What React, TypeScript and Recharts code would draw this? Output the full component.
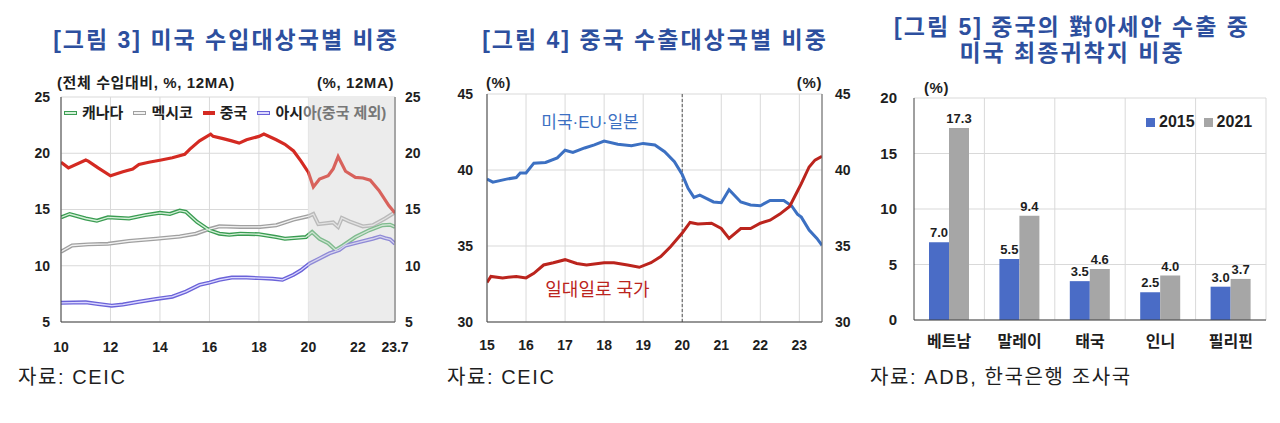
import React from 'react';
import {
  LineChart, Line, XAxis, YAxis, CartesianGrid, ReferenceArea, ReferenceLine,
  BarChart, Bar, LabelList,
} from 'recharts';

const FONT = "'Liberation Sans', 'Noto Sans CJK KR', sans-serif";

// ---------- Figure 3: US import share by partner (%, 12MA) ----------
const canadaShare: [number, number][] = [
  [2010.0, 14.3], [2010.35, 14.6], [2011.0, 14.2], [2011.45, 14.0], [2011.9, 14.3], [2012.75, 14.2],
  [2013.4, 14.5], [2014.0, 14.7], [2014.4, 14.6], [2014.8, 14.9], [2015.05, 14.8], [2015.5, 13.9],
  [2016.0, 13.15], [2016.4, 12.85], [2016.8, 12.75], [2017.25, 12.85], [2018.0, 12.8], [2018.7, 12.55],
  [2019.05, 12.4], [2019.9, 12.55], [2020.15, 13.0], [2020.45, 12.4], [2020.8, 12.0], [2021.1, 11.4],
  [2021.4, 11.8], [2021.9, 12.55], [2022.45, 13.15], [2023.0, 13.6], [2023.3, 13.65], [2023.5, 13.45],
];
const mexicoShare: [number, number][] = [
  [2010.0, 11.25], [2010.45, 11.8], [2011.1, 11.9], [2011.9, 11.95], [2012.75, 12.2], [2013.85, 12.4],
  [2014.8, 12.6], [2015.45, 12.85], [2015.9, 13.2], [2016.4, 13.5], [2017.25, 13.45], [2018.05, 13.45],
  [2018.7, 13.6], [2019.4, 14.1], [2020.0, 14.4], [2020.2, 14.6], [2020.4, 13.7], [2021.0, 13.85],
  [2021.2, 13.45], [2021.35, 14.25], [2021.65, 13.95], [2022.2, 13.5], [2022.6, 13.6], [2023.1, 14.2],
  [2023.5, 14.75],
];
const chinaShare: [number, number][] = [
  [2010.0, 19.2], [2010.3, 18.7], [2011.0, 19.4], [2011.1, 19.3], [2011.5, 18.7], [2012.0, 18.0],
  [2012.5, 18.35], [2012.9, 18.6], [2013.15, 19.0], [2013.55, 19.2], [2014.05, 19.4], [2014.5, 19.6],
  [2015.0, 19.9], [2015.2, 20.35], [2015.6, 21.1], [2016.05, 21.7], [2016.15, 21.5], [2016.55, 21.3],
  [2016.9, 21.1], [2017.2, 20.9], [2017.5, 21.2], [2018.0, 21.5], [2018.2, 21.7], [2018.7, 21.2],
  [2019.05, 20.8], [2019.4, 20.2], [2019.7, 19.3], [2020.0, 18.3], [2020.2, 17.0], [2020.45, 17.7],
  [2020.8, 18.0], [2021.0, 18.6], [2021.2, 19.7], [2021.5, 18.4], [2021.9, 17.85], [2022.2, 17.8],
  [2022.5, 17.6], [2022.85, 16.7], [2023.25, 15.35], [2023.5, 14.7],
];
const asiaExChinaShare: [number, number][] = [
  [2010.0, 6.7], [2011.0, 6.75], [2011.5, 6.6], [2012.05, 6.45], [2012.5, 6.55], [2013.15, 6.8],
  [2013.85, 7.05], [2014.5, 7.25], [2015.05, 7.7], [2015.6, 8.3], [2016.0, 8.5], [2016.4, 8.75],
  [2016.9, 8.95], [2017.5, 8.95], [2018.0, 8.9], [2018.55, 8.85], [2018.95, 8.75], [2019.4, 9.2],
  [2019.7, 9.6], [2020.05, 10.2], [2020.45, 10.65], [2020.85, 11.1], [2021.25, 11.4], [2021.5, 11.8],
  [2022.05, 12.1], [2022.6, 12.4], [2022.9, 12.6], [2023.1, 12.45], [2023.3, 12.35], [2023.5, 11.95],
];
const fig3XTicks = [2010, 2012, 2014, 2016, 2018, 2020, 2022, 2023.5];
const fig3XLabels = ['10', '12', '14', '16', '18', '20', '22', '23.7'];
const fig3YTicks = [5, 10, 15, 20, 25];
const fig3ShadeStart = 2020;

// ---------- Figure 4: China export share by destination (%) ----------
const usEuJapanShare: [number, number][] = [
  [2015.0, 39.4], [2015.15, 39.2], [2015.5, 39.4], [2015.75, 39.5], [2015.85, 39.8], [2016.0, 39.8],
  [2016.2, 40.45], [2016.5, 40.5], [2016.8, 40.8], [2017.0, 41.3], [2017.2, 41.15], [2017.5, 41.45],
  [2017.75, 41.65], [2018.0, 41.9], [2018.35, 41.7], [2018.7, 41.6], [2019.0, 41.75], [2019.3, 41.65],
  [2019.55, 41.2], [2019.8, 40.55], [2020.0, 39.7], [2020.15, 38.8], [2020.3, 38.2], [2020.45, 38.35],
  [2020.8, 37.9], [2021.0, 37.85], [2021.2, 38.7], [2021.5, 37.9], [2021.75, 37.7], [2022.0, 37.65],
  [2022.25, 38.0], [2022.6, 38.0], [2022.8, 37.65], [2022.95, 37.1], [2023.05, 36.9], [2023.25, 36.05],
  [2023.45, 35.5], [2023.58, 35.05],
];
const beltRoadShare: [number, number][] = [
  [2015.0, 32.6], [2015.1, 33.0], [2015.4, 32.9], [2015.75, 33.0], [2016.0, 32.9], [2016.2, 33.2],
  [2016.45, 33.75], [2016.7, 33.9], [2017.0, 34.1], [2017.3, 33.85], [2017.55, 33.75], [2018.0, 33.9],
  [2018.25, 33.9], [2018.6, 33.75], [2018.9, 33.6], [2019.2, 33.9], [2019.45, 34.3], [2019.7, 34.95],
  [2020.0, 35.85], [2020.2, 36.55], [2020.4, 36.45], [2020.75, 36.5], [2021.0, 36.15], [2021.2, 35.5],
  [2021.5, 36.15], [2021.75, 36.15], [2022.0, 36.5], [2022.25, 36.7], [2022.5, 37.1], [2022.75, 37.6],
  [2022.95, 38.6], [2023.05, 39.1], [2023.25, 40.2], [2023.4, 40.65], [2023.58, 40.9],
];
const fig4XTicks = [2015, 2016, 2017, 2018, 2019, 2020, 2021, 2022, 2023];
const fig4XLabels = ['15', '16', '17', '18', '19', '20', '21', '22', '23'];
const fig4YTicks = [30, 35, 40, 45];

// ---------- Figure 5: share of US as final destination (%) ----------
const aseanCountries = ['베트남', '말레이', '태국', '인니', '필리핀'];
const share2015 = [7.0, 5.5, 3.5, 2.5, 3.0];
const share2021 = [17.3, 9.4, 4.6, 4.0, 3.7];
const fig5YTicks = [0, 5, 10, 15, 20];

const toRows = (pairs: [number, number][]) => pairs.map(([year, value]) => ({ year, value }));
const fig5Rows = aseanCountries.map((name, i) => ({ name, y2015: share2015[i], y2021: share2021[i] }));

const tickStyle = { fontSize: 14, fontWeight: 700, fill: '#1e1e1e', fontFamily: FONT };
const DARK = '#404040';
const GRID = '#d9d9d9';

const titleStyle: React.CSSProperties = {
  position: 'absolute', color: '#2d4f9e', fontSize: 23, fontWeight: 700, letterSpacing: 2,
  textAlign: 'center', whiteSpace: 'nowrap', lineHeight: '26px',
};
const unitStyle: React.CSSProperties = {
  position: 'absolute', fontSize: 15, fontWeight: 700, color: '#1e1e1e', whiteSpace: 'nowrap', lineHeight: '18px', letterSpacing: 0.6,
};
const sourceStyle: React.CSSProperties = {
  position: 'absolute', fontSize: 20, color: '#1e1e1e', letterSpacing: 1.6, whiteSpace: 'nowrap', lineHeight: '22px',
};

function DoubleMarker({ outer, inner }: { outer: string; inner: string }) {
  return (
    <span style={{ display: 'inline-block', width: 11, height: 2, background: inner, border: `1px solid ${outer}`, margin: '0 5px 0 2px' }} />
  );
}

// fraction of each fig-3 line (bounding box spans its first to last year) before the shaded period
const shadeFraction = (pairs: [number, number][]) =>
  (fig3ShadeStart - pairs[0][0]) / (pairs[pairs.length - 1][0] - pairs[0][0]);

function Fig3() {
  const series = [
    { key: 'mx', data: mexicoShare, outer: '#a0a0a0', outerFade: '#b9b9b9', inner: '#f2f2f2', innerFade: '#e2e2e2' },
    { key: 'ca', data: canadaShare, outer: '#3a9c52', outerFade: '#7fbb8e', inner: '#d4f0d8', innerFade: '#d0e4d3' },
    { key: 'as', data: asiaExChinaShare, outer: '#6a62d8', outerFade: '#8f8ad6', inner: '#dcd9ff', innerFade: '#d6d4ee' },
    { key: 'cn', data: chinaShare, outer: '#d42a22', outerFade: '#d8625c', inner: '', innerFade: '' },
  ];
  return (
    <div style={{ position: 'absolute', left: 0, top: 60 }}>
      <LineChart width={430} height={300} margin={{ top: 37, right: 0, bottom: 8, left: 21 }}>
        <defs>
          {series.map((s) => {
            const f = shadeFraction(s.data);
            return (
              <React.Fragment key={s.key}>
                <linearGradient id={`g-${s.key}-o`} x1="0" y1="0" x2="1" y2="0">
                  <stop offset={f} stopColor={s.outer} />
                  <stop offset={f} stopColor={s.outerFade} />
                </linearGradient>
                <linearGradient id={`g-${s.key}-i`} x1="0" y1="0" x2="1" y2="0">
                  <stop offset={f} stopColor={s.inner || s.outer} />
                  <stop offset={f} stopColor={s.innerFade || s.outerFade} />
                </linearGradient>
              </React.Fragment>
            );
          })}
        </defs>
        <CartesianGrid stroke={GRID} />
        <ReferenceArea x1={fig3ShadeStart} x2={2023.5} y1={5} y2={25} fill="#ececec" fillOpacity={1} stroke="none" ifOverflow="hidden" />
        <XAxis type="number" dataKey="year" domain={[2010, 2023.5]} ticks={fig3XTicks} allowDataOverflow
          tickFormatter={(v: number) => fig3XLabels[fig3XTicks.indexOf(v)] ?? ''}
          tickLine={false} axisLine={{ stroke: DARK }} tick={tickStyle} height={30} tickMargin={14} interval={0} />
        <YAxis domain={[5, 25]} ticks={fig3YTicks} width={40} tickLine={false} axisLine={{ stroke: DARK }}
          tick={tickStyle} tickMargin={5} allowDataOverflow />
        <YAxis yAxisId="r" orientation="right" domain={[5, 25]} ticks={fig3YTicks} width={35} tickLine={false}
          axisLine={{ stroke: '#606060' }} tick={tickStyle} tickMargin={4} allowDataOverflow />
        {series.filter((s) => s.inner).map((s) => (
          <Line key={s.key + 'o'} data={toRows(s.data)} dataKey="value" type="linear" stroke={`url(#g-${s.key}-o)`} strokeWidth={4}
            dot={false} activeDot={false} isAnimationActive={false} legendType="none" />
        ))}
        {series.filter((s) => s.inner).map((s) => (
          <Line key={s.key + 'i'} data={toRows(s.data)} dataKey="value" type="linear" stroke={`url(#g-${s.key}-i)`} strokeWidth={1.3}
            dot={false} activeDot={false} isAnimationActive={false} legendType="none" />
        ))}
        <Line data={toRows(chinaShare)} dataKey="value" type="linear" stroke="url(#g-cn-o)" strokeWidth={3.2}
          dot={false} activeDot={false} isAnimationActive={false} legendType="none" />
      </LineChart>
    </div>
  );
}

function Fig4() {
  return (
    <div style={{ position: 'absolute', left: 440, top: 55 }}>
      <LineChart width={420} height={305} margin={{ top: 39, right: 0, bottom: 8, left: 7 }}>
        <CartesianGrid stroke={GRID} />
        <XAxis type="number" dataKey="year" domain={[2015, 2023.58]} ticks={fig4XTicks} allowDataOverflow
          tickFormatter={(v: number) => fig4XLabels[fig4XTicks.indexOf(v)] ?? ''}
          tickLine={false} axisLine={{ stroke: DARK }} tick={tickStyle} height={30} tickMargin={12} interval={0} />
        <YAxis domain={[30, 45]} ticks={fig4YTicks} width={40} tickLine={false} axisLine={{ stroke: DARK }}
          tick={tickStyle} tickMargin={8} allowDataOverflow />
        <YAxis yAxisId="r" orientation="right" domain={[30, 45]} ticks={fig4YTicks} width={38} tickLine={false}
          axisLine={{ stroke: '#606060' }} tick={tickStyle} tickMargin={7} allowDataOverflow />
        <ReferenceLine x={2020} stroke="#555" strokeDasharray="3 2" strokeWidth={1} />
        <Line data={toRows(usEuJapanShare)} dataKey="value" type="linear" stroke="#3c70c2" strokeWidth={3}
          dot={false} activeDot={false} isAnimationActive={false} legendType="none" />
        <Line data={toRows(beltRoadShare)} dataKey="value" type="linear" stroke="#bb241d" strokeWidth={3}
          dot={false} activeDot={false} isAnimationActive={false} legendType="none" />
      </LineChart>
    </div>
  );
}

function Fig5() {
  return (
    <div style={{ position: 'absolute', left: 870, top: 60 }}>
      <BarChart width={410} height={300} data={fig5Rows} margin={{ top: 38, right: 14, bottom: 10, left: 4 }}
        barCategoryGap={15} barGap={0}>
        <CartesianGrid stroke={GRID}
          verticalCoordinatesGenerator={({ offset }: any) =>
            aseanCountries.map((_, i) => offset.left + (offset.width * (i + 1)) / aseanCountries.length)} />
        <XAxis dataKey="name" tickLine={false} axisLine={{ stroke: DARK }} height={30} tickMargin={10} interval={0}
          tick={{ ...tickStyle, fontSize: 16 }} />
        <YAxis domain={[0, 20]} ticks={fig5YTicks} width={40} tickLine={false} axisLine={{ stroke: DARK }}
          tick={{ ...tickStyle, fontSize: 15 }} tickMargin={11} />
        <Bar dataKey="y2015" fill="#4a6cc6" isAnimationActive={false}>
          <LabelList dataKey="y2015" position="top" offset={5} formatter={(v: number) => v.toFixed(1)}
            style={{ fontSize: 13, fontWeight: 700, fill: '#1e1e1e', fontFamily: FONT }} />
        </Bar>
        <Bar dataKey="y2021" fill="#a6a6a6" isAnimationActive={false}>
          <LabelList dataKey="y2021" position="top" offset={5} formatter={(v: number) => v.toFixed(1)}
            style={{ fontSize: 13, fontWeight: 700, fill: '#1e1e1e', fontFamily: FONT }} />
        </Bar>
      </BarChart>
    </div>
  );
}

export default function App() {
  return (
    <div style={{ position: 'absolute', left: 0, top: 0, width: 1280, height: 423, background: '#fff', fontFamily: FONT, overflow: 'hidden' }}>
      {/* titles */}
      <div style={{ ...titleStyle, left: 0, width: 452, top: 27 }}>[그림 3] 미국 수입대상국별 비중</div>
      <div style={{ ...titleStyle, left: 430, width: 450, top: 27 }}>[그림 4] 중국 수출대상국별 비중</div>
      <div style={{ ...titleStyle, left: 860, width: 424, top: 14 }}>[그림 5] 중국의 對아세안 수출 중</div>
      <div style={{ ...titleStyle, left: 860, width: 424, top: 40 }}>미국 최종귀착지 비중</div>

      <Fig3 />
      <Fig4 />
      <Fig5 />

      {/* unit labels */}
      <div style={{ ...unitStyle, left: 57, top: 74 }}>(전체 수입대비, %, 12MA)</div>
      <div style={{ ...unitStyle, left: 290, width: 104, textAlign: 'right', top: 74 }}>(%, 12MA)</div>
      <div style={{ ...unitStyle, left: 486, top: 74 }}>(%)</div>
      <div style={{ ...unitStyle, left: 780, width: 42, textAlign: 'right', top: 74 }}>(%)</div>
      <div style={{ ...unitStyle, left: 924, top: 79 }}>(%)</div>

      {/* figure 3 legend */}
      <div style={{ position: 'absolute', left: 62, top: 104, display: 'flex', alignItems: 'center', fontSize: 15, fontWeight: 700, color: '#1e1e1e', whiteSpace: 'nowrap', lineHeight: '18px' }}>
        <DoubleMarker outer="#3a9c52" inner="#d4f0d8" /><span>캐나다</span>
        <span style={{ width: 8 }} />
        <DoubleMarker outer="#a0a0a0" inner="#f2f2f2" /><span>멕시코</span>
        <span style={{ width: 8 }} />
        <span style={{ display: 'inline-block', width: 12, height: 4, background: '#d42a22', margin: '0 5px 0 2px' }} /><span>중국</span>
        <span style={{ width: 8 }} />
        <DoubleMarker outer="#6a62d8" inner="#dcd9ff" /><span>아시</span><span style={{ color: '#777' }}>아(중국 제외)</span>
      </div>

      {/* figure 4 annotations */}
      <div style={{ position: 'absolute', left: 530, width: 120, textAlign: 'center', top: 113, fontSize: 17, color: '#3c70c2', whiteSpace: 'nowrap', lineHeight: '20px' }}>미국·EU·일본</div>
      <div style={{ position: 'absolute', left: 535, width: 125, textAlign: 'center', top: 280, fontSize: 18, color: '#bb241d', whiteSpace: 'nowrap', lineHeight: '20px' }}>일대일로 국가</div>

      {/* figure 5 legend */}
      <div style={{ position: 'absolute', left: 1146, top: 112, display: 'flex', alignItems: 'center', fontSize: 16, fontWeight: 700, color: '#1e1e1e', whiteSpace: 'nowrap', lineHeight: '20px' }}>
        <span style={{ display: 'inline-block', width: 9, height: 9, background: '#4a6cc6', marginRight: 4 }} /><span>2015</span>
        <span style={{ width: 9 }} />
        <span style={{ display: 'inline-block', width: 9, height: 9, background: '#a6a6a6', marginRight: 4 }} /><span>2021</span>
      </div>

      {/* sources */}
      <div style={{ ...sourceStyle, left: 18, top: 366 }}>자료: CEIC</div>
      <div style={{ ...sourceStyle, left: 447, top: 366 }}>자료: CEIC</div>
      <div style={{ ...sourceStyle, left: 870, top: 366 }}>자료: ADB, 한국은행 조사국</div>
    </div>
  );
}
